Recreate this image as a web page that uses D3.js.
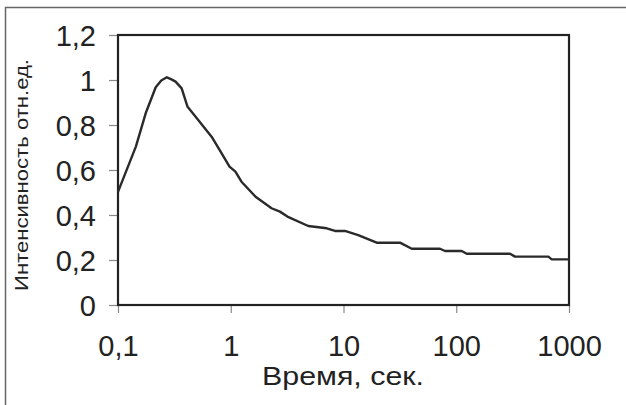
<!DOCTYPE html>
<html>
<head>
<meta charset="utf-8">
<script src="https://cdn.jsdelivr.net/npm/d3@7"></script>
<style>
  html, body { margin: 0; padding: 0; background: #fff; }
  svg { display: block; }
  text { font-family: "Liberation Sans", Arial, sans-serif; fill: #222; }
</style>
</head>
<body>
<svg id="chart" width="626" height="405"></svg>
<script>
// ---- data ----
const time = [0.1, 0.144, 0.176, 0.216, 0.242, 0.271, 0.298, 0.324, 0.367, 0.414, 0.488, 0.676, 0.796, 0.975, 1.10, 1.245, 1.66, 2.30, 2.73, 3.18, 4.87, 7.1, 8.41, 10.3, 13.5, 19.7, 31.7, 40.3, 71.8, 79.5, 111.7, 123.8, 300, 332, 656, 703, 1000];
const intensity = [0.503, 0.704, 0.852, 0.968, 0.998, 1.012, 1.003, 0.993, 0.963, 0.881, 0.837, 0.748, 0.689, 0.615, 0.593, 0.548, 0.481, 0.430, 0.415, 0.393, 0.351, 0.341, 0.329, 0.329, 0.311, 0.277, 0.277, 0.250, 0.250, 0.240, 0.240, 0.228, 0.228, 0.215, 0.215, 0.203, 0.203];
const xTicks = [0.1, 1, 10, 100, 1000];
const xTickLabels = ["0,1", "1", "10", "100", "1000"];
const yTicks = [0, 0.2, 0.4, 0.6, 0.8, 1.0, 1.2];
const yTickLabels = ["0", "0,2", "0,4", "0,6", "0,8", "1", "1,2"];
const xTitle = "Время, сек.";
const yTitle = "Интенсивность отн.ед.";

const data = time.map((t, i) => ({ t, v: intensity[i] }));

const svg = d3.select("#chart");
const L = 118, R = 569, T = 35, B = 305;

const x = d3.scaleLog().domain([0.1, 1000]).range([L, R]);
const y = d3.scaleLinear().domain([0, 1.2]).range([B, T]);

// outer frame (only top and left visible)
svg.append("path")
  .attr("d", "M5.5,405 V7.5 H626")
  .attr("fill", "none").attr("stroke", "#666").attr("stroke-width", 1.5);

// axes (ticks + labels)
const xAxis = d3.axisBottom(x).tickValues(xTicks)
  .tickFormat((d, i) => xTickLabels[i]).tickSize(8).tickPadding(0).tickSizeOuter(0);
const gx = svg.append("g").attr("transform", `translate(0,${B})`).call(xAxis);
gx.select(".domain").remove();
gx.selectAll("line").attr("stroke", "#888").attr("stroke-width", 1.2);
gx.selectAll("text").attr("y", 51).attr("dy", 0)
  .style("font-size", "29px").style("font-family", "Liberation Sans, Arial, sans-serif").attr("fill", "#222");

const yAxis = d3.axisLeft(y).tickValues(yTicks)
  .tickFormat((d, i) => yTickLabels[i]).tickSize(9).tickPadding(0).tickSizeOuter(0);
const gy = svg.append("g").attr("transform", `translate(${L},0)`).call(yAxis);
gy.select(".domain").remove();
gy.selectAll("line").attr("stroke", "#888").attr("stroke-width", 1.2);
gy.selectAll("text").attr("x", -22).attr("dy", "0.35em")
  .style("font-size", "29px").style("font-family", "Liberation Sans, Arial, sans-serif").attr("fill", "#222");

// plot frame
svg.append("rect")
  .attr("x", L).attr("y", T).attr("width", R - L).attr("height", B - T)
  .attr("fill", "none").attr("stroke", "#222").attr("stroke-width", 2.2);

// curve
const line = d3.line().x(d => x(d.t)).y(d => y(d.v)).curve(d3.curveLinear);
svg.append("path").datum(data)
  .attr("d", line)
  .attr("fill", "none").attr("stroke", "#2a2a2a").attr("stroke-width", 2.4)
  .attr("stroke-linejoin", "round");

// titles
svg.append("text")
  .attr("x", 343).attr("y", 385).attr("text-anchor", "middle")
  .attr("textLength", 162).attr("lengthAdjust", "spacingAndGlyphs")
  .style("font-size", "25px").text(xTitle);

svg.append("text")
  .attr("transform", "translate(28,175) rotate(-90)")
  .attr("text-anchor", "middle")
  .attr("textLength", 232).attr("lengthAdjust", "spacingAndGlyphs")
  .style("font-size", "19px").text(yTitle);
</script>
</body>
</html>
